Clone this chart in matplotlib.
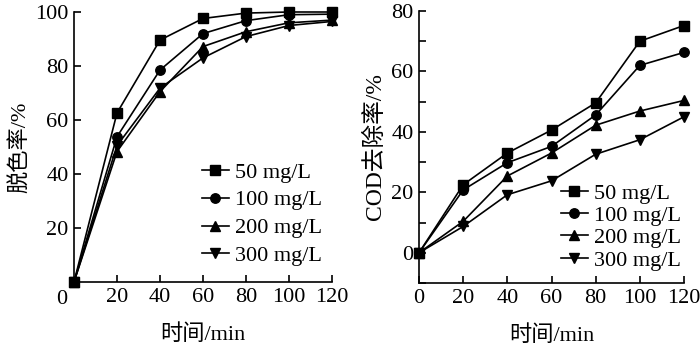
import matplotlib
matplotlib.use("Agg")
import matplotlib.pyplot as plt
from matplotlib.ticker import MultipleLocator

plt.rcParams['font.family'] = ['Liberation Serif', 'Noto Sans CJK SC']
plt.rcParams['axes.unicode_minus'] = False

time = [0, 20, 40, 60, 80, 100, 120]
labels = ['50 mg/L', '100 mg/L', '200 mg/L', '300 mg/L']
markers = ['s', 'o', '^', 'v']

decolor = [
    [0, 62.6, 89.6, 97.6, 99.6, 100, 100],
    [0, 53.8, 78.5, 92.0, 96.8, 99.0, 99.2],
    [0, 48.3, 70.5, 87.2, 92.7, 96.0, 97.0],
    [0, 50.5, 71.8, 83.0, 90.9, 95.0, 96.5],
]
cod = [
    [0, 22.5, 33.0, 40.6, 49.6, 70.0, 75.2],
    [0, 20.8, 29.8, 35.2, 45.6, 62.0, 66.3],
    [0, 10.4, 25.4, 33.0, 42.2, 46.9, 50.4],
    [0, 8.7, 19.2, 23.8, 32.6, 37.4, 45.0],
]

fig = plt.figure(figsize=(7, 3.45), dpi=100)
ax1 = fig.add_axes([74/700, 1-282/345, 258/700, 270/345])
ax2 = fig.add_axes([419/700, 1-283/345, 265/700, 272/345])

for ax, data in [(ax1, decolor), (ax2, cod)]:
    for ys, lab, m in zip(data, labels, markers):
        ax.plot(time, ys, color='black', lw=1.2, marker=m, ms=6.8,
                label=lab, clip_on=False, zorder=3)
    ax.spines['top'].set_visible(False)
    ax.spines['right'].set_visible(False)
    ax.spines['left'].set_linewidth(1.2)
    ax.spines['bottom'].set_linewidth(1.2)
    ax.tick_params(direction='in', length=5, width=1.2, labelsize=16, pad=4)
    ax.tick_params(which='minor', direction='in', length=5, width=1.2)
    ax.set_xlim(0, 120)
    ax.set_xlabel('时间/min', fontsize=16, labelpad=13)

ax1.set_ylim(0, 100)
ax1.set_xticks([20, 40, 60, 80, 100, 120])
ax1.set_yticks([20, 40, 60, 80, 100])
ax1.annotate('0', xy=(0, 0), xycoords='data', xytext=(-8.6, -12.5),
             textcoords='offset points', ha='center', va='center', fontsize=16)
ax1.set_ylabel('脱色率/%', fontsize=16, labelpad=3)
ax1.legend(loc='upper left', bbox_to_anchor=(202/700, 1-162/345),
           bbox_transform=fig.transFigure, frameon=False, fontsize=16,
           handlelength=1.2, handletextpad=0.3, labelspacing=0.33,
           borderpad=0, borderaxespad=0)

ax2.set_ylim(-10, 80)
ax2.set_xticks(time)
ax2.set_yticks([0, 20, 40, 60, 80])
ax2.yaxis.set_minor_locator(MultipleLocator(10))
ax2.set_ylabel('COD去除率/%', fontsize=17, labelpad=4)
ax2.legend(loc='upper left', bbox_to_anchor=(561/700, 1-183/345),
           bbox_transform=fig.transFigure, frameon=False, fontsize=16,
           handlelength=1.2, handletextpad=0.3, labelspacing=0.08,
           borderpad=0, borderaxespad=0)

fig.savefig('out.png', dpi=100)
